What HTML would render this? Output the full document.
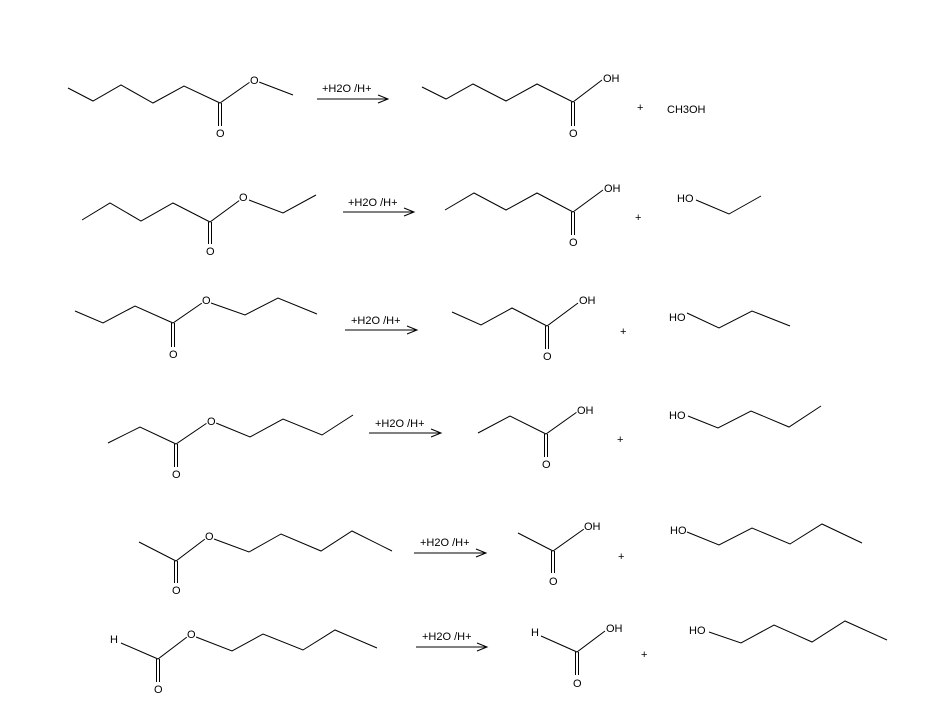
<!DOCTYPE html>
<html><head><meta charset="utf-8"><style>
html,body{margin:0;padding:0;background:#fff;}
svg{display:block;}
text{font-family:"Liberation Sans",sans-serif;font-size:11px;fill:#000;}
.l{stroke:#000;stroke-width:1;fill:none;}
.w{stroke:#fff;stroke-width:3;paint-order:stroke;}
</style></head><body>
<svg width="943" height="709" viewBox="0 0 943 709">
<!-- Row 1 -->
<polyline class="l" points="68,88 93,101 121,85 153,103 184,86 220,103 250,82"/>
<line class="l" x1="259" y1="82" x2="293" y2="95"/>
<line class="l" x1="218.5" y1="103" x2="218.5" y2="126"/><line class="l" x1="221.5" y1="103" x2="221.5" y2="126"/>
<text class="w" x="250" y="84">O</text><text class="w" x="216" y="137">O</text>
<line class="l" x1="317" y1="99" x2="388" y2="99"/><polyline class="l" points="378,95 388,99 378,103"/>
<text x="322" y="92">+H2O /H+</text>
<polyline class="l" points="422,87 446,99 473,84 506,101 537,84 573,102 602,80"/>
<line class="l" x1="571.5" y1="102" x2="571.5" y2="126"/><line class="l" x1="574.5" y1="102" x2="574.5" y2="126"/>
<text class="w" x="603" y="82">OH</text><text class="w" x="569" y="137">O</text>
<text x="637" y="111">+</text><text x="667" y="113">CH3OH</text>
<!-- Row 2 -->
<polyline class="l" points="82,220 110,203 141,221 173,203 210,222 240,200"/>
<polyline class="l" points="249,200 283,213 316,195"/>
<line class="l" x1="208.5" y1="222" x2="208.5" y2="244"/><line class="l" x1="211.5" y1="222" x2="211.5" y2="244"/>
<text class="w" x="239" y="201">O</text><text class="w" x="206" y="255">O</text>
<line class="l" x1="343" y1="212" x2="414" y2="212"/><polyline class="l" points="404,208 414,212 404,216"/>
<text x="348" y="206">+H2O /H+</text>
<polyline class="l" points="445,210 474,193 506,210 537,193 573,212 603,190"/>
<line class="l" x1="571.5" y1="212" x2="571.5" y2="235"/><line class="l" x1="574.5" y1="212" x2="574.5" y2="235"/>
<text class="w" x="604" y="192">OH</text><text class="w" x="569" y="246">O</text>
<text x="635" y="221">+</text>
<text x="677" y="202">HO</text><polyline class="l" points="696,200 729,214 761,196"/>
<!-- Row 3 -->
<polyline class="l" points="75,311 103,323 135,306 173,323 202,303"/>
<polyline class="l" points="211,303 245,315 278,298 317,314"/>
<line class="l" x1="171.5" y1="323" x2="171.5" y2="347"/><line class="l" x1="174.5" y1="323" x2="174.5" y2="347"/>
<text class="w" x="202" y="304">O</text><text class="w" x="169" y="358">O</text>
<line class="l" x1="345" y1="330" x2="417" y2="330"/><polyline class="l" points="407,326 417,330 407,334"/>
<text x="351" y="324">+H2O /H+</text>
<polyline class="l" points="452,312 481,325 512,308 547,326 578,303"/>
<line class="l" x1="545.5" y1="326" x2="545.5" y2="349"/><line class="l" x1="548.5" y1="326" x2="548.5" y2="349"/>
<text class="w" x="579" y="304">OH</text><text class="w" x="543" y="360">O</text>
<text x="620" y="335">+</text>
<text x="669" y="321">HO</text><polyline class="l" points="687,313 719,328 752,311 790,326"/>
<!-- Row 4 -->
<polyline class="l" points="108,443 140,427 176,444 207,423"/>
<polyline class="l" points="216,423 250,437 283,419 322,435 353,415"/>
<line class="l" x1="174.5" y1="444" x2="174.5" y2="467"/><line class="l" x1="177.5" y1="444" x2="177.5" y2="467"/>
<text class="w" x="207" y="425">O</text><text class="w" x="172" y="478">O</text>
<line class="l" x1="369" y1="433" x2="441" y2="433"/><polyline class="l" points="431,429 441,433 431,437"/>
<text x="375" y="427">+H2O /H+</text>
<polyline class="l" points="478,433 510,416 546,434 577,412"/>
<line class="l" x1="544.5" y1="434" x2="544.5" y2="457"/><line class="l" x1="547.5" y1="434" x2="547.5" y2="457"/>
<text class="w" x="577" y="414">OH</text><text class="w" x="542" y="468">O</text>
<text x="617" y="443">+</text>
<text x="669" y="419">HO</text><polyline class="l" points="688,416 718,428 751,411 789,427 821,406"/>
<!-- Row 5 -->
<polyline class="l" points="139,542 176,561 205,539"/>
<polyline class="l" points="214,539 249,552 281,534 321,551 352,531 392,551"/>
<line class="l" x1="174.5" y1="561" x2="174.5" y2="583"/><line class="l" x1="177.5" y1="561" x2="177.5" y2="583"/>
<text class="w" x="205" y="540">O</text><text class="w" x="172" y="594">O</text>
<line class="l" x1="414" y1="553" x2="486" y2="553"/><polyline class="l" points="476,549 486,553 476,557"/>
<text x="420" y="546">+H2O /H+</text>
<polyline class="l" points="518,533 553,551 584,529"/>
<line class="l" x1="551.5" y1="551" x2="551.5" y2="573"/><line class="l" x1="554.5" y1="551" x2="554.5" y2="573"/>
<text class="w" x="584" y="530">OH</text><text class="w" x="549" y="585">O</text>
<text x="618" y="560">+</text>
<text x="670" y="534">HO</text><polyline class="l" points="687,532 719,545 752,528 790,544 822,524 862,543"/>
<!-- Row 6 -->
<polyline class="l" points="121,643 158,659 187,637"/>
<polyline class="l" points="196,637 232,651 263,634 303,650 335,630 377,648"/>
<line class="l" x1="156.5" y1="659" x2="156.5" y2="682"/><line class="l" x1="159.5" y1="659" x2="159.5" y2="682"/>
<text x="110" y="643">H</text>
<text class="w" x="187" y="638">O</text><text class="w" x="154" y="693">O</text>
<line class="l" x1="416" y1="647" x2="487" y2="647"/><polyline class="l" points="477,643 487,647 477,651"/>
<text x="422" y="640">+H2O /H+</text>
<text x="531" y="636">H</text>
<polyline class="l" points="541,636 577,652 605,631"/>
<line class="l" x1="575.5" y1="652" x2="575.5" y2="675"/><line class="l" x1="578.5" y1="652" x2="578.5" y2="675"/>
<text class="w" x="606" y="632">OH</text><text class="w" x="573" y="687">O</text>
<text x="641" y="658">+</text>
<text x="689" y="634">HO</text><polyline class="l" points="709,632 741,643 774,625 812,642 845,621 887,640"/>
</svg>
</body></html>
